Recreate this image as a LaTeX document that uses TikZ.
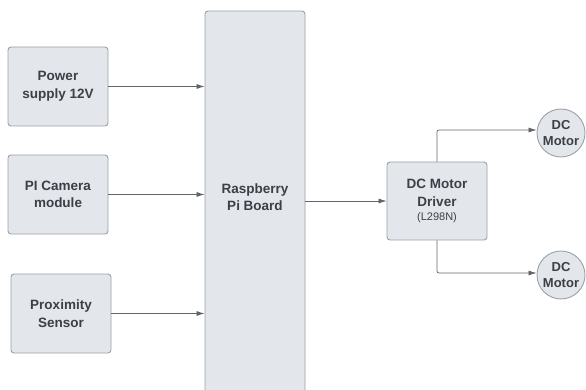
\documentclass[tikz,border=0pt]{standalone}
\usepackage{fontspec}
\setmainfont{Liberation Sans}
\usetikzlibrary{arrows.meta}
\definecolor{boxfill}{HTML}{E3E6EB}
\definecolor{boxline}{HTML}{9BA1A9}
\definecolor{txt}{HTML}{3B4048}
\definecolor{wire}{HTML}{60656C}
\begin{document}
\begin{tikzpicture}[x=1pt,y=-1pt]
        \tikzstyle{block}=[rectangle, rounded corners=3pt, draw=boxline, fill=boxfill, line width=0.9pt, minimum width=100pt, minimum height=79pt, align=center, text=txt, font=\bfseries\fontsize{13.5}{17.5}\selectfont]
        \tikzstyle{motor}=[circle, draw=boxline, fill=boxfill, line width=0.9pt, minimum size=48pt, inner sep=0pt, align=center, text=txt, font=\bfseries\fontsize{13}{16}\selectfont]
        \tikzstyle{wire}=[draw=wire, line width=0.7pt, -{Latex[length=8pt,width=5pt]}]

        \useasboundingbox (0,0) rectangle (586,390);
        \clip (0,0) rectangle (586,390);

        \node[block] (pw) at (58,86.5) {Power\\supply 12V};
        \node[block] (cam) at (58,194.5) {PI Camera\\module};
        \node[block] (prox) at (61,313.5) {Proximity\\Sensor};
        \node[block, minimum height=390pt] (pi) at (255,206) {};
        \node[align=center, text=txt, font=\bfseries\fontsize{13.5}{17.5}\selectfont] (pitext) at (255,197) {Raspberry\\Pi Board};
        \node[block, minimum height=78pt] (drv) at (437,201) {DC Motor\\Driver\\[-3pt]{\mdseries\fontsize{11}{13}\selectfont (L298N)}};
        \node[motor] (m1) at (561,133) {DC\\Motor};
        \node[motor] (m2) at (561,275) {DC\\Motor};

        \draw[wire] (pw.east) -- (pw.east -| pi.west);
        \draw[wire] (cam.east) -- (cam.east -| pi.west);
        \draw[wire] (prox.east) -- (prox.east -| pi.west);
        \draw[wire] (pi.east |- drv.west) -- (drv.west);
        \draw[wire, rounded corners=2pt] (drv.north) |- (m1.west |- 0,130);
        \draw[wire, rounded corners=2pt] (drv.south) |- (m2.west |- 0,273);
    \end{tikzpicture}
\end{document}
